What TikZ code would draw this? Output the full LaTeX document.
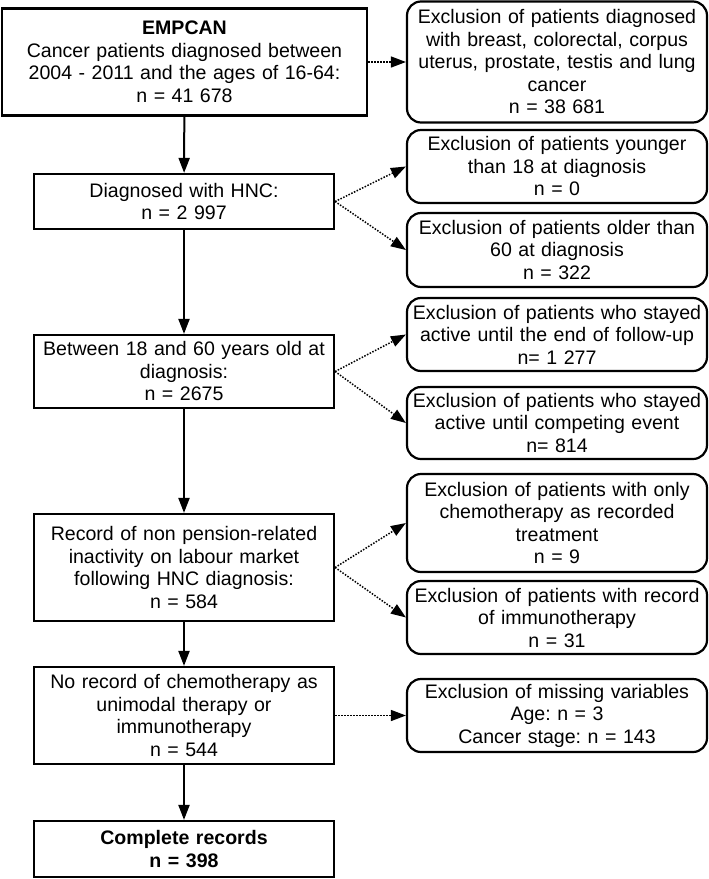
\documentclass[tikz,border=0pt]{standalone}
\usepackage{fontspec}
\setmainfont{Liberation Sans}
\usetikzlibrary{arrows.meta}
\frenchspacing

\begin{document}
\begin{tikzpicture}[x=0.5pt,y=-0.5pt]
 \tikzstyle{stage}=[rectangle,draw,line width=1.1pt,align=center,inner sep=0pt,text width=145pt,minimum width=150pt,font=\fontsize{9.78}{11.25}\selectfont]
 \tikzstyle{excl}=[stage,rounded corners=7pt]
 \tikzstyle{flow}=[->,>={Triangle[length=7.5pt,width=5.5pt]},line width=1pt]
 \tikzstyle{drop}=[flow,line width=0.75pt,dash pattern=on 0.75pt off 0.75pt]
 %
 \useasboundingbox (0,0) rectangle (708,879);
 %
 \node[stage, text width=175pt, minimum width=182.5pt, minimum height=53.5pt] (EMPCAN) at (184.5,62) {\textbf{EMPCAN}\\ Cancer patients diagnosed between\\ 2004 - 2011 and the ages of 16-64:\\ n = 41 678};
 \node[stage, minimum height=27.5pt] (HNC) at (184,201.5) {Diagnosed with HNC:\\ n = 2 997};
 \node[stage, minimum height=36.5pt] (Age) at (184,371.5) {Between 18 and 60 years old at\\ diagnosis:\\ n = 2675};
 \node[stage, minimum height=53.5pt] (Inact) at (184,567.5) {Record of non pension-related\\ inactivity on labour market\\ following HNC diagnosis:\\ n = 584};
 \node[stage, minimum height=48.5pt] (NoChemo) at (184,715.5) {No record of chemotherapy as\\ unimodal therapy or\\ immunotherapy\\ n = 544};
 \node[stage, minimum height=28pt, font=\fontsize{9.78}{11.25}\selectfont\bfseries] (Final) at (184,849) {Complete records\\ n = 398};
 %
 \node[excl, minimum height=60.5pt] (ExCancer) at (557,62) {Exclusion of patients diagnosed\\ with breast, colorectal, corpus\\ uterus, prostate, testis and lung\\ cancer\\ n = 38 681};
 \node[excl, minimum height=36.5pt] (ExYoung) at (557,166.5) {Exclusion of patients younger\\ than 18 at diagnosis\\ n = 0};
 \node[excl, minimum height=37pt] (ExOld) at (557,250) {Exclusion of patients older than\\ 60 at diagnosis\\ n = 322};
 \node[excl, minimum height=36.5pt] (ExFollow) at (557,334.5) {Exclusion of patients who stayed\\ active until the end of follow-up\\ n= 1 277};
 \node[excl, minimum height=36pt] (ExEvent) at (557,423) {Exclusion of patients who stayed\\ active until competing event\\ n= 814};
 \node[excl, minimum height=49pt] (ExChemo) at (557,523) {Exclusion of patients with only\\ chemotherapy as recorded\\ treatment\\ n = 9};
 \node[excl, minimum height=36.5pt] (ExImmuno) at (557,617.5) {Exclusion of patients with record\\ of immunotherapy\\ n = 31};
 \node[excl, minimum height=36.5pt] (ExMissing) at (557,715.5) {Exclusion of missing variables\\ Age: n = 3\\ Cancer stage: n = 143};
 %
 \draw[flow] (EMPCAN) -- (HNC);
 \draw[flow] (HNC) -- (Age);
 \draw[flow] (Age) -- (Inact);
 \draw[flow] (Inact) -- (NoChemo);
 \draw[flow] (NoChemo) -- (Final);
 %
 \draw[drop] (EMPCAN.east) -- (ExCancer.west);
 \draw[drop] (HNC.east) -- (ExYoung.west);
 \draw[drop] (HNC.east) -- (ExOld.west);
 \draw[drop] (Age.east) -- (ExFollow.west);
 \draw[drop] (Age.east) -- (ExEvent.west);
 \draw[drop] (Inact.east) -- (ExChemo.west);
 \draw[drop] (Inact.east) -- (ExImmuno.west);
 \draw[drop] (NoChemo.east) -- (ExMissing.west);
\end{tikzpicture}
\end{document}
